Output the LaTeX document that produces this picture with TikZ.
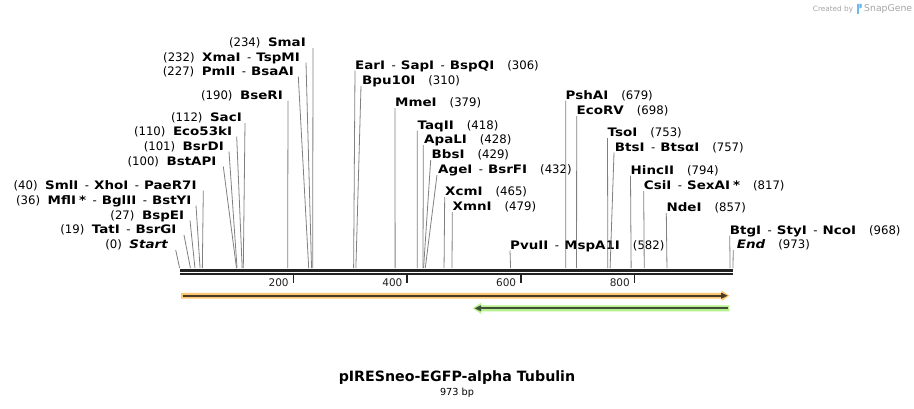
\documentclass[tikz,border=0pt]{standalone}
\usepackage{fontspec}
\setmainfont{DejaVu Sans}
\newfontfamily\labfont{DejaVu Sans}[BoldFeatures={FakeStretch=1.15},BoldItalicFeatures={FakeStretch=1.15}]
\definecolor{sitegray}{RGB}{128,128,128}
\definecolor{barcol}{RGB}{34,34,34}
\definecolor{orfout}{RGB}{250,200,112}
\definecolor{orfin}{RGB}{74,58,40}
\definecolor{grnout}{RGB}{182,240,140}
\definecolor{grnin}{RGB}{64,80,56}
\definecolor{logoblue}{RGB}{110,185,235}
\definecolor{credgray}{RGB}{165,165,165}
\newcommand\bpx[1]{179.6+0.5687*#1}
\newcommand\sep{\hspace{6.5pt}\textmd{-}\hspace{5pt}}
\newcommand\myast{\hspace{3pt}*}
\tikzset{
  lab/.style={inner sep=0pt, font=\labfont\fontsize{11.7}{13}\selectfont, text=black},
  site/.style={draw=sitegray, line width=0.8pt},
}
\newcommand\lsite[7]{%
  \node[lab,anchor=base east] (#1) at (#3,#2+4.3) {(#6)\hspace{7.5pt}\textbf{#7}};
  \coordinate (#1t) at (#4,#2+5.5);
  \coordinate (#1b) at ({\bpx{#5}},268);
  \draw[site] (#1t) -- (#1b);}
\newcommand\rsite[7]{%
  \node[lab,anchor=base west] (#1) at (#3,#2+4.3) {\textbf{#6}\hspace{13pt}(#7)};
  \coordinate (#1t) at (#4,#2+5.5);
  \coordinate (#1b) at ({\bpx{#5}},268);
  \draw[site] (#1t) -- (#1b);}
\begin{document}
\begin{tikzpicture}[x=1pt,y=-1pt]
\useasboundingbox (0,0) rectangle (914,408);
\fill[white] (0,0) rectangle (914,408);
% sites left
\lsite{s1}{42.5}{306}{313}{234}{234}{SmaI}
\lsite{s2}{57}{300}{306}{232}{232}{XmaI\sep TspMI}
\lsite{s3}{71}{294}{298.3}{227}{227}{PmlI\sep BsaAI}
\lsite{s4}{95}{283}{288}{190}{190}{BseRI}
\lsite{s5}{117.5}{242}{245}{112}{112}{SacI}
\lsite{s6}{131}{232.3}{236.7}{110}{110}{Eco53kI}
\lsite{s7}{146}{224}{229}{101}{101}{BsrDI}
\lsite{s8}{161}{216.7}{223.3}{100}{100}{BstAPI}
\lsite{s9}{185}{196.7}{203.3}{40}{40}{SmlI\sep XhoI\sep PaeR7I}
\lsite{s10}{200}{191.7}{196}{36}{36}{MflI\myast\sep BglII\sep BstYI}
\lsite{s11}{215}{184.3}{190}{27}{27}{BspEI}
\lsite{s12}{229.5}{176.7}{184}{19}{19}{TatI\sep BsrGI}
\lsite{s13}{244.5}{168.3}{175.7}{0}{0}{\textit{Start}}
% sites right
\rsite{r1}{65}{355}{355}{306}{EarI\sep SapI\sep BspQI}{306}
\rsite{r2}{80.5}{362}{361}{310}{Bpu10I}{310}
\rsite{r3}{102.5}{395}{395}{379}{MmeI}{379}
\rsite{r4}{125}{417.5}{417.3}{418}{TaqII}{418}
\rsite{r5}{139.5}{424}{423.3}{428}{ApaLI}{428}
\rsite{r6}{154.5}{431.5}{430.7}{429}{BbsI}{429}
\rsite{r7}{169.5}{438}{437}{432}{AgeI\sep BsrFI}{432}
\rsite{r8}{191.5}{445}{444.7}{465}{XcmI}{465}
\rsite{r9}{206.5}{452.5}{452.3}{479}{XmnI}{479}
\rsite{r10}{245}{510}{510}{582}{PvuII\sep MspA1I}{582}
\rsite{r11}{95}{565.5}{565.7}{679}{PshAI}{679}
\rsite{r12}{110.5}{576.5}{576.7}{698}{EcoRV}{698}
\rsite{r13}{132.5}{607.5}{607.5}{753}{TsoI}{753}
\rsite{r14}{147}{614.7}{614}{757}{BtsI\sep BtsαI}{757}
\rsite{r15}{170}{630.5}{630.5}{794}{HincII}{794}
\rsite{r16}{185.5}{643.7}{643.7}{817}{CsiI\sep SexAI\myast}{817}
\rsite{r17}{207.5}{666.3}{666.3}{857}{NdeI}{857}
\rsite{r18}{230}{729.7}{729.7}{968}{BtgI\sep StyI\sep NcoI}{968}
\rsite{r19}{244.5}{736.7}{733.3}{973}{\textit{End}}{973}
% sequence bar
\coordinate (barL) at (180,270.3);
\coordinate (barR) at (733.3,270.3);
\coordinate (barL2) at (180,274.3);
\coordinate (barR2) at (733.3,274.3);
\draw[barcol, line width=2.5pt] (barL) -- (barR);
\draw[barcol, line width=2.2pt] (barL2) -- (barR2);
% ticks
\foreach \t/\lbl in {200/200,400/400,600/600,800/800}{
  \coordinate (tk\t) at ({\bpx{\t}},275);
  \draw[barcol, line width=1.6pt] (tk\t) -- ++(0,7.5);
  \node[inner sep=0pt, anchor=base east, font=\fontsize{10.5}{12}\selectfont, text=barcol] (tl\t) at ({\bpx{\t}-4.5},286) {\lbl};
}
% orange feature (forward)
\fill[orfout] (181,292.8) -- (721.5,292.8) -- (721.5,290.3) -- (729.3,295.7) -- (721.5,301.1) -- (721.5,298.6) -- (181,298.6) -- cycle;
\draw[orfin, line width=1.8pt] (182.5,295.7) -- (723,295.7);
\fill[orfin] (721,292.6) -- (727.6,295.7) -- (721,298.8) -- cycle;
% green feature (reverse)
\fill[grnout] (729.3,305.3) -- (481,305.3) -- (481,302.8) -- (472.7,308.3) -- (481,313.8) -- (481,311.3) -- (729.3,311.3) -- cycle;
\draw[grnin, line width=1.8pt] (727.8,308.3) -- (480,308.3);
\fill[grnin] (481.2,305.2) -- (474.6,308.3) -- (481.2,311.4) -- cycle;
% title
\node[inner sep=0pt, font=\bfseries\fontsize{14.2}{16}\selectfont] (title) at (457,378) {pIRESneo-EGFP-alpha Tubulin};
\node[inner sep=0pt, font=\fontsize{9.7}{11}\selectfont] (len) at (457,392.5) {973 bp};
% credit
\node[inner sep=0pt, anchor=base east, text=credgray, font=\fontsize{7.3}{9}\selectfont] (cred) at (853.3,11) {Created by};
\fill[logoblue] (857.3,3.5) rectangle (859.3,13.5);
\fill[logoblue] (859.3,3.5) -- (860.5,3.5) .. controls (862.3,3.5) and (862.3,8.3) .. (860.5,8.3) -- (859.3,8.3) -- cycle;
\node[inner sep=0pt, anchor=base west, text=credgray, font=\fontsize{9.3}{11}\selectfont] (snap) at (864,11.3) {SnapGene};
\end{tikzpicture}
\end{document}
